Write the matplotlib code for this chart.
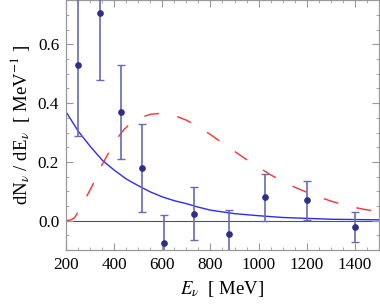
import matplotlib
matplotlib.use('Agg')
import matplotlib.pyplot as plt
from matplotlib.ticker import MultipleLocator

plt.rcParams['font.family'] = ['Liberation Serif', 'DejaVu Serif']
plt.rcParams['mathtext.fontset'] = 'stix'

# measured points
E_data = [250, 340, 430, 515, 607, 730, 877, 1026, 1200, 1400]
N_data = [0.530, 0.708, 0.369, 0.178, -0.077, 0.024, -0.045, 0.079, 0.069, -0.021]
N_err = [0.242, 0.230, 0.160, 0.150, 0.095, 0.090, 0.082, 0.080, 0.067, 0.050]

# solid blue curve
E_blue = [200, 250, 300, 350, 400, 450, 500, 550, 600, 650, 700, 750, 800,
          900, 1000, 1100, 1200, 1300, 1400, 1500]
N_blue = [0.370, 0.305, 0.253, 0.206, 0.172, 0.142, 0.119, 0.098, 0.081,
          0.068, 0.058, 0.046, 0.036, 0.024, 0.017, 0.011, 0.008, 0.005,
          0.004, 0.003]

# dashed red curve
E_red = [200, 220, 235, 250, 270, 290, 320, 350, 380, 410, 440, 470, 500,
         550, 600, 650, 700, 750, 800, 850, 900, 950, 1000, 1050, 1100,
         1150, 1200, 1250, 1300, 1350, 1400, 1450, 1500]
N_red = [0.000, 0.003, 0.010, 0.030, 0.060, 0.090, 0.137, 0.192, 0.236,
         0.278, 0.310, 0.333, 0.348, 0.362, 0.366, 0.358, 0.342, 0.320,
         0.293, 0.264, 0.236, 0.208, 0.182, 0.156, 0.134, 0.114, 0.097,
         0.081, 0.067, 0.055, 0.045, 0.037, 0.031]

fig = plt.figure(figsize=(3.8, 3.05), dpi=100)
ax = fig.add_axes([0.174, 0.18, 0.823, 0.819])

ax.axhline(0, color='#555555', lw=0.8, zorder=1)
ax.plot(E_blue, N_blue, color='#2b2bff', lw=1.0, zorder=2)
ax.plot(E_red, N_red, color='#ff3030', lw=1.0, dashes=(10.8, 13.5), zorder=2)
ax.errorbar(E_data, N_data, yerr=N_err, fmt='o', ms=3.8, color='#2e2e88',
            ecolor='#6a6ab4', elinewidth=1.2, capsize=3, capthick=1.0, zorder=3)

ax.set_xlim(200, 1500)
ax.set_ylim(-0.1, 0.75)
ax.xaxis.set_major_locator(MultipleLocator(200))
ax.xaxis.set_minor_locator(MultipleLocator(50))
ax.yaxis.set_major_locator(MultipleLocator(0.2))
ax.yaxis.set_minor_locator(MultipleLocator(0.05))
ax.yaxis.set_major_formatter(plt.FuncFormatter(lambda v, p: f'{v:.1f}'))

for s in ax.spines.values():
    s.set_color('#999999')
    s.set_linewidth(0.9)
ax.tick_params(which='both', direction='in', top=True, right=True,
               color='#999999', labelsize=12.3, pad=5)
ax.tick_params(which='major', length=5)
ax.tick_params(which='minor', length=2.5)

ax.set_xlabel(r'$E_\nu$  [ MeV]', fontsize=13.5, labelpad=4)
ax.set_ylabel(r'dN$_\nu$ / dE$_\nu$  [ MeV$^{-1}$ ]', fontsize=13.5, labelpad=4)

fig.savefig('out.png', dpi=100)
